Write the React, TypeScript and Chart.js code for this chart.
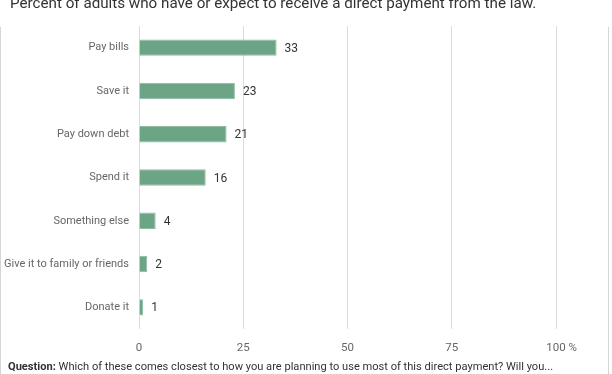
import React, { useEffect, useRef } from "react";
import { Chart, registerables } from "chart.js";

Chart.register(...registerables);

const categories = [
  "Pay bills",
  "Save it",
  "Pay down debt",
  "Spend it",
  "Something else",
  "Give it to family or friends",
  "Donate it",
];
const values = [33, 23, 21, 16, 4, 2, 1];
const xTickValues = [0, 25, 50, 75, 100];
const xTickLabels = ["0", "25", "50", "75", "    100 %"];
const titleText =
  "Percent of adults who have or expect to receive a direct payment from the law.";
const questionLabel = "Question:";
const questionText =
  " Which of these comes closest to how you are planning to use most of this direct payment? Will you...";

const FONT = "Roboto, 'Noto Sans', sans-serif";

const valueLabels = {
  id: "valueLabels",
  afterDatasetsDraw(chart: any) {
    const ctx = chart.ctx;
    const meta = chart.getDatasetMeta(0);
    ctx.save();
    ctx.font = `12px ${FONT}`;
    ctx.fillStyle = "#333";
    ctx.textAlign = "left";
    ctx.textBaseline = "middle";
    meta.data.forEach((bar: any, i: number) => {
      ctx.fillText(String(values[i]), bar.x + 8, bar.y + 1);
    });
    ctx.restore();
  },
};

export default function App() {
  const ref = useRef<HTMLCanvasElement | null>(null);

  useEffect(() => {
    document.body.style.margin = "0";
    const chart = new Chart(ref.current as HTMLCanvasElement, {
      type: "bar",
      data: {
        labels: categories,
        datasets: [
          {
            data: values,
            backgroundColor: "#6ba586",
            borderColor: "#8cbca2",
            borderWidth: 1,
            barPercentage: 0.76,
            categoryPercentage: 0.5,
          },
        ],
      },
      options: {
        indexAxis: "y",
        animation: false,
        responsive: false,
        maintainAspectRatio: false,
        layout: { padding: { top: 26, right: 56, bottom: 0, left: 0 } },
        plugins: {
          legend: { display: false },
          tooltip: { enabled: false },
        },
        scales: {
          x: {
            min: 0,
            max: 100,
            afterBuildTicks(scale: any) {
              scale.ticks = xTickValues.map((v) => ({ value: v }));
            },
            afterFit(scale: any) {
              scale.height = 45;
            },
            grid: { color: "#dcdcdc", drawTicks: false, lineWidth: 1 },
            border: { display: false },
            ticks: {
              padding: 12,
              color: "#666",
              font: { family: FONT, size: 11.5 },
              maxRotation: 0,
              callback: (v: any) => {
                const i = xTickValues.indexOf(Number(v));
                return i >= 0 ? xTickLabels[i] : "";
              },
            },
          },
          y: {
            afterFit(scale: any) {
              scale.width = 139;
            },
            grid: { display: false, drawTicks: false },
            border: { display: false },
            ticks: {
              padding: 10,
              color: "#666",
              font: { family: FONT, size: 11 },
            },
          },
        },
      },
      plugins: [valueLabels],
    });
    return () => chart.destroy();
  }, []);

  return (
    <div
      style={{
        position: "relative",
        width: 612,
        height: 374,
        overflow: "hidden",
        background: "#fff",
        fontFamily: FONT,
      }}
    >
      <div
        style={{
          position: "absolute",
          top: 27,
          left: 0,
          width: 609,
          height: 347,
          borderLeft: "1px solid #d6d6d6",
          borderRight: "1px solid #d6d6d6",
          boxSizing: "border-box",
        }}
      />
      <canvas
        ref={ref}
        width={612}
        height={374}
        style={{ position: "absolute", top: 0, left: 0, width: 612, height: 374 }}
      />
      <div
        style={{
          position: "absolute",
          top: -6,
          left: 10,
          fontSize: 15.2,
          color: "#333",
          whiteSpace: "nowrap",
        }}
      >
        {titleText}
      </div>
      <div
        style={{
          position: "absolute",
          top: 360,
          left: 8,
          fontSize: 11.1,
          color: "#333",
          whiteSpace: "nowrap",
        }}
      >
        <b>{questionLabel}</b>
        {questionText}
      </div>
    </div>
  );
}
